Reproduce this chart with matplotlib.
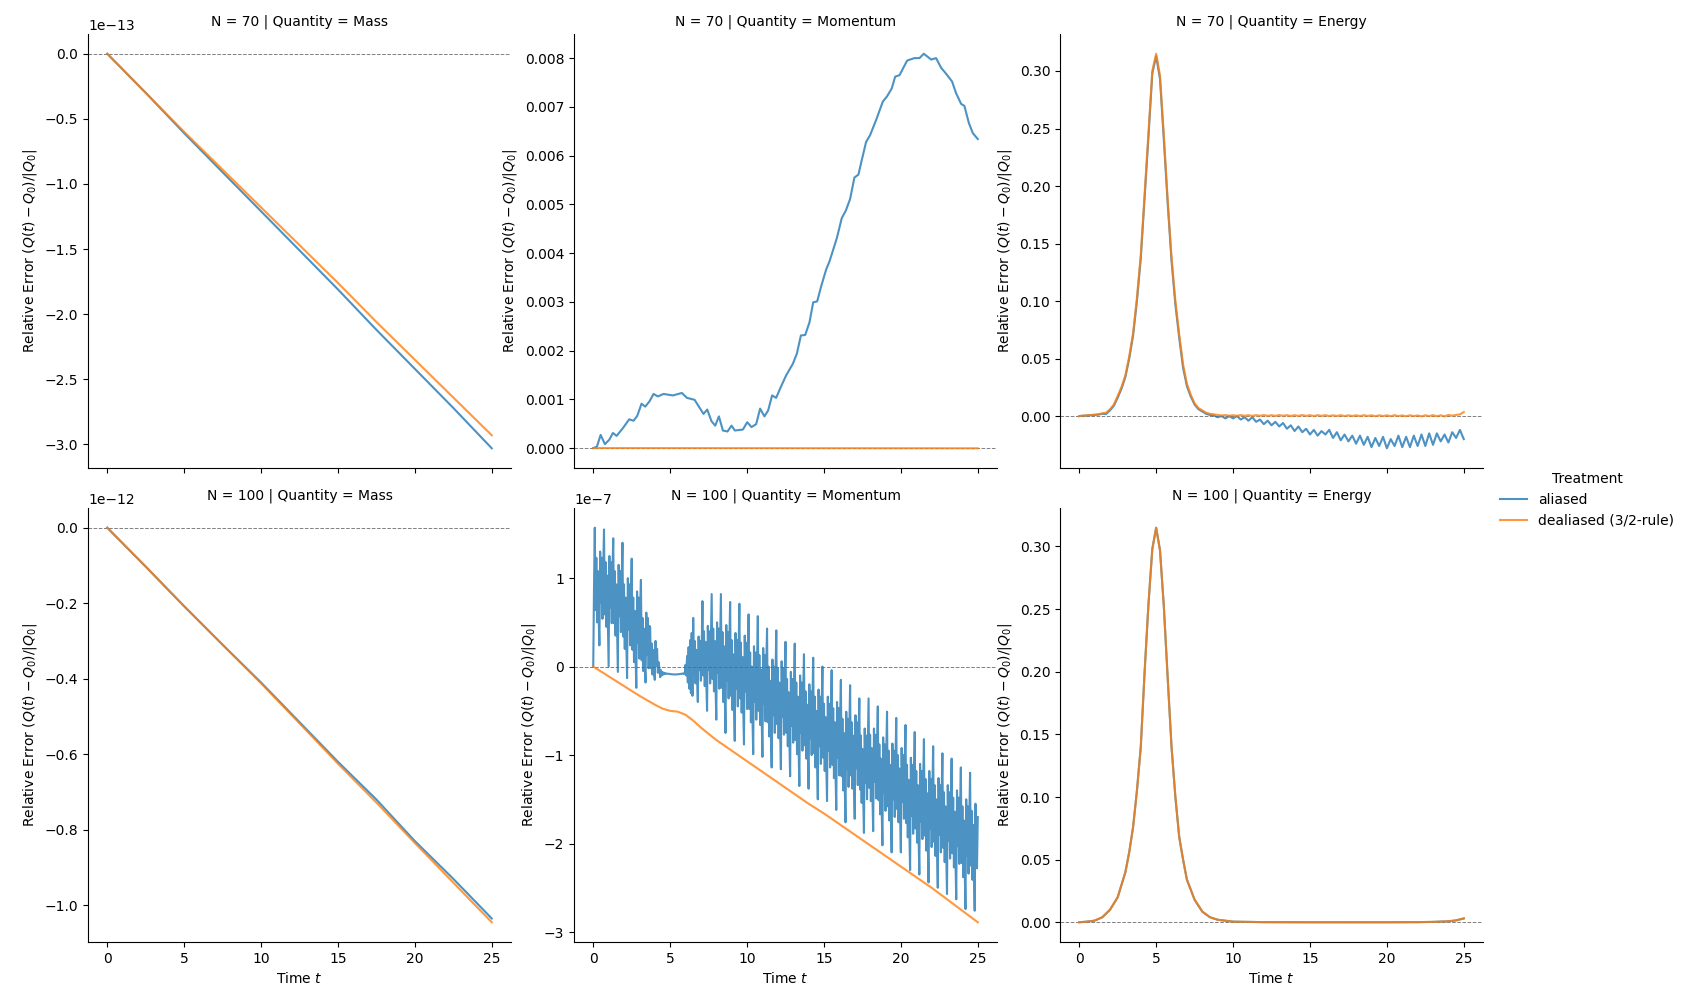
import numpy as np
import matplotlib
matplotlib.use("Agg")
import matplotlib.pyplot as plt
from matplotlib.lines import Line2D

treatments = ["aliased", "dealiased (3/2-rule)"]
colors = {"aliased": "#1f77b4", "dealiased (3/2-rule)": "#ff7f0e"}
grid_N = [70, 100]
quantities = ["Mass", "Momentum", "Energy"]

# ---- N = 70, Mass (x1e-13) ----
mass70_t = [0, 2.5, 5, 7.5, 10, 12.5, 15, 17.5, 20, 22.5, 25]
mass70_aliased = np.array([0, -0.30, -0.61, -0.91, -1.21, -1.51, -1.81, -2.12, -2.42, -2.72, -3.03]) * 1e-13
mass70_dealiased = np.array([0, -0.30, -0.60, -0.89, -1.18, -1.47, -1.76, -2.06, -2.35, -2.64, -2.93]) * 1e-13

# ---- N = 70, Momentum ----
mom70_t_al = [0, 0.24, 0.48, 0.76, 1.04, 1.28, 1.52, 1.93, 2.34, 2.62, 2.86, 3.14, 3.38, 3.66, 3.92,
              4.20, 4.57, 5.18, 5.76, 6.09, 6.59, 7.17, 7.41, 7.69, 7.93, 8.17, 8.43, 8.73, 8.99, 9.21,
              9.73, 10.01, 10.29, 10.59, 10.85, 11.13, 11.37, 11.63, 11.89, 12.22, 12.54, 12.98, 13.24,
              13.50, 13.78, 14.06, 14.30, 14.56, 14.82, 15.15, 15.36, 15.84, 16.16, 16.42, 16.70, 16.98,
              17.24, 17.46, 17.74, 18.00, 18.39, 18.83, 19.09, 19.41, 19.63, 19.91, 20.41, 20.88, 21.21,
              21.49, 21.97, 22.29, 22.62, 22.94, 23.33, 23.59, 23.92, 24.13, 24.42, 24.68, 25.00]
mom70_aliased = [0, 0.00003, 0.00027, 0.00008, 0.00017, 0.00031, 0.00025, 0.00041, 0.00059, 0.00056,
                 0.00066, 0.00091, 0.00085, 0.00096, 0.00111, 0.00106, 0.00111, 0.00108, 0.00113, 0.00103,
                 0.00099, 0.00070, 0.00079, 0.00055, 0.00046, 0.00065, 0.00036, 0.00034, 0.00046, 0.00036,
                 0.00038, 0.00053, 0.00043, 0.00049, 0.00081, 0.00065, 0.00077, 0.00108, 0.00103, 0.00127,
                 0.00149, 0.00173, 0.00194, 0.00231, 0.00232, 0.00258, 0.00299, 0.00301, 0.00332, 0.00367,
                 0.00383, 0.00431, 0.00472, 0.00487, 0.00511, 0.00555, 0.00561, 0.00591, 0.00628, 0.00642,
                 0.00673, 0.00711, 0.00721, 0.00738, 0.00762, 0.00765, 0.00795, 0.00800, 0.00800, 0.00809,
                 0.00797, 0.00800, 0.00780, 0.00768, 0.00752, 0.00728, 0.00706, 0.00702, 0.00667, 0.00646,
                 0.00634]
mom70_t_de = [0, 5, 10, 15, 20, 25]
mom70_dealiased = [0, -0.000001, -0.000002, -0.000003, -0.000004, -0.000005]

# ---- N = 70, Energy (sampled every 0.25) ----
en70_aliased = [
    0.0000, 0.0003, 0.0005, 0.0008, 0.0010, 0.0013, 0.0020, 0.0018, 0.0050, 0.0090,
    0.0160, 0.0240, 0.0340, 0.0500, 0.0700, 0.1000, 0.1370, 0.1900, 0.2430, 0.2980,
    0.3130, 0.2930, 0.2400, 0.1850, 0.1350, 0.0970, 0.0680, 0.0420, 0.0260, 0.0170,
    0.0100, 0.0060, 0.0040, 0.0020, 0.0010, 0.0005, -0.0010, 0.0000, -0.0020, 0.0000,
    -0.0020, 0.0000, -0.0030, -0.0010, -0.0040, -0.0010, -0.0050, -0.0030, -0.0070, -0.0040,
    -0.0080, -0.0050, -0.0090, -0.0060, -0.0110, -0.0080, -0.0130, -0.0090, -0.0140, -0.0110,
    -0.0160, -0.0120, -0.0170, -0.0130, -0.0160, -0.0120, -0.0190, -0.0140, -0.0210, -0.0160,
    -0.0220, -0.0170, -0.0240, -0.0170, -0.0250, -0.0180, -0.0270, -0.0190, -0.0260, -0.0180,
    -0.0280, -0.0200, -0.0260, -0.0170, -0.0270, -0.0180, -0.0270, -0.0170, -0.0260, -0.0160,
    -0.0260, -0.0150, -0.0250, -0.0150, -0.0220, -0.0160, -0.0230, -0.0140, -0.0190, -0.0120,
    -0.0200]
en70_dealiased = [
    0.0000, 0.0004, 0.0006, 0.0009, 0.0012, 0.0016, 0.0024, 0.0030, 0.0060, 0.0100,
    0.0175, 0.0255, 0.0355, 0.0520, 0.0720, 0.1030, 0.1400, 0.1930, 0.2460, 0.3000,
    0.3150, 0.2960, 0.2440, 0.1880, 0.1380, 0.1000, 0.0710, 0.0450, 0.0280, 0.0185,
    0.0110, 0.0070, 0.0050, 0.0030, 0.0020, 0.0015, 0.0010, 0.0005, 0.0009, 0.0003,
    0.0008, 0.0002, 0.0009, 0.0003, 0.0008, 0.0002, 0.0008, 0.0003, 0.0009, 0.0002,
    0.0008, 0.0002, 0.0009, 0.0003, 0.0008, 0.0001, 0.0008, 0.0002, 0.0009, 0.0002,
    0.0008, 0.0001, 0.0008, 0.0002, 0.0008, 0.0001, 0.0007, 0.0001, 0.0008, 0.0000,
    0.0007, 0.0001, 0.0007, 0.0000, 0.0008, 0.0001, 0.0007, -0.0001, 0.0007, 0.0000,
    0.0007, -0.0001, 0.0008, 0.0000, 0.0006, -0.0001, 0.0007, 0.0000, 0.0006, -0.0002,
    0.0007, 0.0000, 0.0008, -0.0001, 0.0007, -0.0002, 0.0010, 0.0004, 0.0010, 0.0015,
    0.0035]

# ---- N = 100, Mass (x1e-12) ----
mass100_t = [0, 2.5, 5, 7.5, 10, 12.5, 15, 17.5, 20, 22.5, 25]
mass100_aliased = np.array([0, -0.103, -0.208, -0.31, -0.41, -0.515, -0.62, -0.72, -0.83, -0.93, -1.035]) * 1e-12
mass100_dealiased = np.array([0, -0.103, -0.208, -0.31, -0.412, -0.518, -0.625, -0.728, -0.835, -0.94, -1.045]) * 1e-12

# ---- N = 100, Momentum (x1e-7), aliased sampled every 0.05 ----
mom100_aliased = np.array([
    0.00, 0.90,
    1.57, 0.64, 1.23, 0.50, 1.08, 0.57, 0.24, 1.30, 0.72, 1.23, 0.54, 1.12,
    1.55, 0.59, 1.18, 0.45, 1.03, 0.52, 0.00, 1.25, 0.67, 1.18, 0.49, 1.07,
    1.45, 0.49, 1.08, 0.35, 0.93, 0.42, -0.06, 1.15, 0.57, 1.08, 0.39, 0.97,
    1.40, 0.34, 0.93, 0.20, 0.78, 0.27, -0.13, 1.00, 0.42, 0.93, 0.24, 0.82,
    1.22, 0.19, 0.78, 0.05, 0.63, 0.12, -0.24, 0.85, 0.27, 0.78, 0.09, 0.67,
    0.98, 0.07, 0.55, -0.05, 0.43, 0.01, -0.18, 0.61, 0.13, 0.55, -0.02, 0.46,
    0.45, -0.02, 0.26, -0.09, 0.19, -0.06, -0.15, 0.29, 0.01, 0.20, -0.07, 0.05,
    -0.02, -0.12, -0.04, -0.10, -0.06, -0.09, -0.07, -0.085, -0.075, -0.08,
    -0.08, -0.08, -0.082, -0.083, -0.085, -0.086, -0.087, -0.088, -0.088, -0.089,
    -0.089, -0.089, -0.088, -0.088, -0.087, -0.086, -0.085, -0.084, -0.083, -0.082,
    -0.08, -0.078, -0.085, -0.07,
    0.02, -0.10, 0.12, -0.18, 0.22, -0.25, 0.30, -0.30, 0.38, -0.33,
    0.55, -0.09, 0.29, -0.19, 0.19, -0.14, -0.40, 0.34, -0.04, 0.29, -0.16, 0.22,
    0.74, -0.10, 0.40, -0.22, 0.28, -0.16, -0.50, 0.46, -0.04, 0.40, -0.19, 0.31,
    0.82, -0.14, 0.43, -0.28, 0.29, -0.21, -0.60, 0.50, -0.07, 0.43, -0.25, 0.32,
    0.82, -0.24, 0.39, -0.40, 0.23, -0.32, -0.75, 0.47, -0.16, 0.39, -0.36, 0.27,
    0.73, -0.33, 0.30, -0.49, 0.14, -0.41, -0.84, 0.38, -0.25, 0.30, -0.45, 0.18,
    0.71, -0.36, 0.27, -0.52, 0.11, -0.44, -0.88, 0.35, -0.28, 0.27, -0.48, 0.15,
    0.59, -0.48, 0.16, -0.63, 0.00, -0.56, -0.99, 0.23, -0.40, 0.16, -0.60, 0.04,
    0.57, -0.50, 0.13, -0.66, -0.03, -0.58, -1.02, 0.21, -0.42, 0.13, -0.62, 0.01,
    0.43, -0.63, 0.00, -0.79, -0.16, -0.71, -1.14, 0.08, -0.55, 0.00, -0.75, -0.12,
    0.41, -0.65, -0.02, -0.81, -0.18, -0.73, -1.16, 0.06, -0.57, -0.02, -0.77, -0.14,
    0.28, -0.75, -0.14, -0.90, -0.29, -0.82, -1.24, -0.06, -0.67, -0.14, -0.86, -0.25,
    0.26, -0.83, -0.18, -0.99, -0.34, -0.91, -1.35, -0.10, -0.75, -0.18, -0.95, -0.30,
    0.14, -0.89, -0.28, -1.04, -0.43, -0.96, -1.38, -0.20, -0.81, -0.28, -1.00, -0.39,
    0.10, -0.98, -0.34, -1.14, -0.50, -1.06, -1.50, -0.26, -0.90, -0.34, -1.10, -0.46,
    0.00, -1.03, -0.42, -1.18, -0.57, -1.10, -1.52, -0.34, -0.95, -0.42, -1.14, -0.53,
    -0.04, -1.11, -0.47, -1.26, -0.63, -1.19, -1.62, -0.40, -1.03, -0.47, -1.23, -0.59,
    -0.15, -1.24, -0.59, -1.40, -0.75, -1.32, -1.76, -0.51, -1.16, -0.59, -1.36, -0.71,
    -0.21, -1.23, -0.63, -1.38, -0.78, -1.31, -1.72, -0.55, -1.15, -0.63, -1.34, -0.74,
    -0.36, -1.39, -0.78, -1.54, -0.93, -1.46, -1.88, -0.70, -1.31, -0.78, -1.50, -0.89,
    -0.36, -1.37, -0.77, -1.52, -0.92, -1.45, -1.86, -0.70, -1.30, -0.77, -1.49, -0.89,
    -0.45, -1.51, -0.88, -1.67, -1.04, -1.59, -2.02, -0.80, -1.43, -0.88, -1.63, -1.00,
    -0.51, -1.58, -0.95, -1.74, -1.11, -1.66, -2.10, -0.87, -1.50, -0.95, -1.70, -1.07,
    -0.58, -1.61, -1.00, -1.76, -1.15, -1.68, -2.10, -0.92, -1.53, -1.00, -1.72, -1.11,
    -0.66, -1.77, -1.11, -1.93, -1.28, -1.85, -2.30, -1.03, -1.69, -1.11, -1.89, -1.23,
    -0.74, -1.83, -1.18, -1.99, -1.34, -1.91, -2.35, -1.10, -1.75, -1.18, -1.95, -1.30,
    -0.82, -1.91, -1.27, -2.08, -1.43, -1.99, -2.44, -1.18, -1.83, -1.27, -2.04, -1.39,
    -0.90, -1.98, -1.34, -2.14, -1.50, -2.06, -2.50, -1.26, -1.90, -1.34, -2.10, -1.46,
    -0.98, -2.05, -1.42, -2.21, -1.58, -2.13, -2.57, -1.34, -1.97, -1.42, -2.17, -1.54,
    -1.04, -2.11, -1.48, -2.27, -1.64, -2.19, -2.63, -1.40, -2.03, -1.48, -2.23, -1.60,
    -1.14, -2.22, -1.58, -2.38, -1.74, -2.30, -2.74, -1.50, -2.14, -1.58, -2.34, -1.70,
    -1.20, -2.25, -1.63, -2.41, -1.79, -2.33, -2.76, -1.55, -2.17, -2.28, -1.70,
]) * 1e-7
mom100_t_de = [0, 1, 2, 3, 4, 4.5, 5, 5.5, 6, 6.5, 7, 7.5, 8, 9, 10, 11, 12, 13, 14, 15,
               16, 17, 18, 19, 20, 21, 22, 23, 24, 25]
mom100_dealiased = np.array([0, -0.11, -0.22, -0.33, -0.43, -0.475, -0.50, -0.51, -0.545, -0.61,
                             -0.69, -0.76, -0.83, -0.95, -1.07, -1.19, -1.31, -1.43, -1.55, -1.66,
                             -1.78, -1.90, -2.02, -2.14, -2.26, -2.38, -2.50, -2.63, -2.76, -2.89]) * 1e-7

# ---- N = 100, Energy (both treatments overlap) ----
en100_t = [0, 0.5, 1, 1.5, 2, 2.5, 3, 3.25, 3.5, 3.75, 4, 4.25, 4.5, 4.75, 5, 5.25, 5.5, 5.75,
           6, 6.25, 6.5, 6.75, 7, 7.5, 8, 8.5, 9, 10, 12, 15, 20, 22, 23, 24, 24.5, 25]
en100_aliased = [0, 0.0005, 0.0013, 0.004, 0.010, 0.020, 0.040, 0.056, 0.076, 0.105, 0.140, 0.200,
                 0.254, 0.298, 0.315, 0.297, 0.252, 0.195, 0.140, 0.100, 0.068, 0.050, 0.034, 0.018,
                 0.0085, 0.004, 0.002, 0.0005, 0.0001, 0.0, 0.0, 0.0001, 0.0003, 0.0008, 0.0015, 0.003]
en100_dealiased = [0, 0.0005, 0.0013, 0.004, 0.010, 0.020, 0.040, 0.056, 0.076, 0.105, 0.140, 0.200,
                   0.254, 0.298, 0.315, 0.297, 0.252, 0.195, 0.140, 0.100, 0.068, 0.050, 0.034, 0.018,
                   0.0085, 0.004, 0.002, 0.0005, 0.0001, 0.0, 0.0, 0.0001, 0.0003, 0.0008, 0.0015, 0.0032]

t_quarter = np.arange(len(en70_aliased)) * 0.25
t_fine = np.arange(len(mom100_aliased)) * 0.05

panels = {
    (70, "Mass"): [(mass70_t, mass70_aliased), (mass70_t, mass70_dealiased)],
    (70, "Momentum"): [(mom70_t_al, mom70_aliased), (mom70_t_de, mom70_dealiased)],
    (70, "Energy"): [(t_quarter, en70_aliased), (t_quarter, en70_dealiased)],
    (100, "Mass"): [(mass100_t, mass100_aliased), (mass100_t, mass100_dealiased)],
    (100, "Momentum"): [(t_fine, mom100_aliased), (mom100_t_de, mom100_dealiased)],
    (100, "Energy"): [(en100_t, en100_aliased), (en100_t, en100_dealiased)],
}

fig, axes = plt.subplots(2, 3, figsize=(16.86, 10), sharex=True)
fig.subplots_adjust(left=0.0522, right=0.8796, bottom=0.058, top=0.966, wspace=0.149, hspace=0.092)

for i, n in enumerate(grid_N):
    for j, q in enumerate(quantities):
        ax = axes[i, j]
        ax.axhline(0, color="gray", linestyle="--", linewidth=0.7, zorder=1)
        for tr, (tt, yy) in zip(treatments, panels[(n, q)]):
            ax.plot(tt, yy, color=colors[tr], alpha=0.8, linewidth=1.5, zorder=2)
        ax.set_title(f"N = {n} | Quantity = {q}", fontsize=10)
        ax.set_ylabel(r"Relative Error $(Q(t) - Q_0)/|Q_0|$")
        ax.spines[["top", "right"]].set_visible(False)
        ax.set_xticks([0, 5, 10, 15, 20, 25])
        if i == 1:
            ax.set_xlabel(r"Time $t$")

handles = [Line2D([0], [0], color=colors[tr], alpha=0.8, linewidth=1.5) for tr in treatments]
fig.legend(handles, treatments, title="Treatment", loc="center left",
           bbox_to_anchor=(0.882, 0.5), frameon=False)

plt.savefig("out.png", dpi=100)
